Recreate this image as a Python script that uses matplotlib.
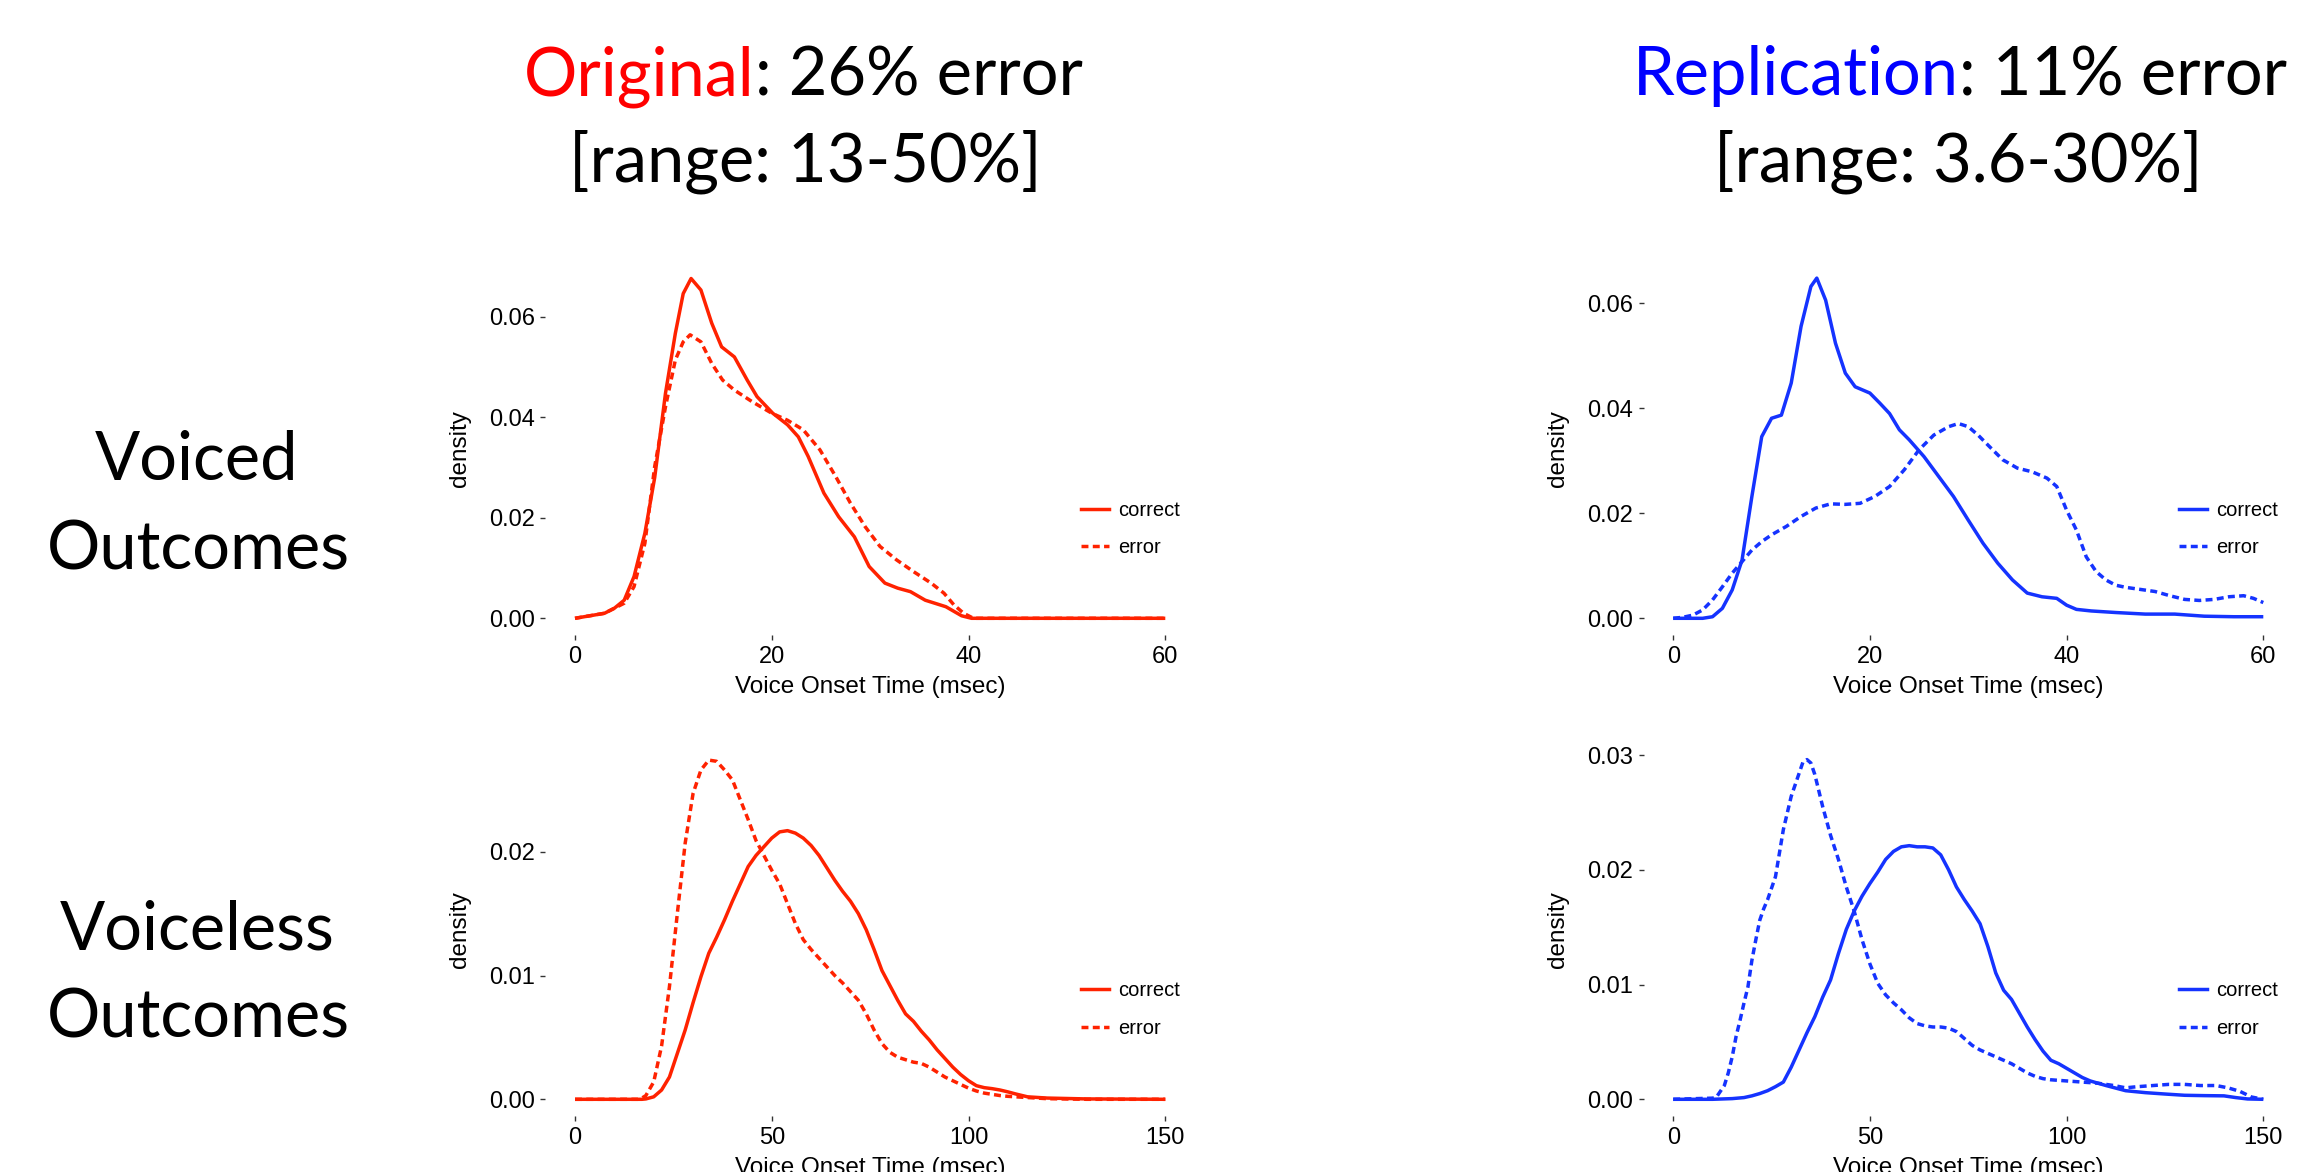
import matplotlib
matplotlib.use("Agg")
import matplotlib.pyplot as plt
from matplotlib.lines import Line2D

W, H = 2306, 1172
DPI = 100

# ---------------- data ----------------
# Original study, voiced outcomes
orig_voiced_correct_x = [0, 3, 4, 5, 6, 7.1, 8.1, 9.2, 10.2, 11, 11.8, 12.8, 13.9, 14.9, 16.2, 17.5, 18.5,
                         20.1, 21.6, 22.7, 23.7, 25.3, 26.8, 28.4, 29.9, 31.5, 32.8, 34.1, 35.6, 37.7, 39.3,
                         40.3, 45, 50, 55, 60]
orig_voiced_correct_y = [0, 0.0010, 0.0020, 0.0036, 0.0083, 0.0169, 0.0280, 0.0448, 0.0567, 0.0646, 0.0676,
                         0.0653, 0.0587, 0.0540, 0.0520, 0.0474, 0.0441, 0.0408, 0.0385, 0.0361, 0.0322,
                         0.0249, 0.0202, 0.0162, 0.0103, 0.0070, 0.0060, 0.0053, 0.0036, 0.0023, 0.0005,
                         0, 0, 0, 0, 0]
orig_voiced_error_x = [0, 3, 5, 6, 7.1, 8.1, 9.2, 10.2, 11, 11.7, 12.8, 13.9, 15, 16.2, 18, 20, 21.6, 23.2,
                       24.9, 26.5, 28, 29.5, 31, 32.7, 34.4, 36.2, 37.5, 38.5, 39.5, 40.5, 45, 50, 55, 60]
orig_voiced_error_y = [0, 0.0010, 0.0030, 0.0063, 0.0149, 0.0302, 0.0421, 0.0514, 0.0550, 0.0564, 0.0550,
                       0.0507, 0.0474, 0.0454, 0.0431, 0.0408, 0.0394, 0.0375, 0.0335, 0.0282, 0.0229,
                       0.0182, 0.0143, 0.0116, 0.0093, 0.0070, 0.0050, 0.0027, 0.0010, 0, 0, 0, 0, 0]

# Replication, voiced outcomes
rep_voiced_correct_x = [0, 3, 4, 5, 6, 7, 8, 9, 10, 11, 12, 13, 14, 14.6, 15.5, 16.5, 17.5, 18.5, 20, 21,
                        22, 23, 24, 25.5, 27, 28.5, 30, 31.5, 33, 34.5, 36, 37.5, 39, 40, 41, 42.5, 45,
                        48, 51, 54, 57, 60]
rep_voiced_correct_y = [0, 0, 0.0003, 0.0019, 0.0054, 0.0111, 0.0232, 0.0346, 0.0381, 0.0387, 0.0448,
                        0.0556, 0.0632, 0.0648, 0.0606, 0.0524, 0.0467, 0.0441, 0.0429, 0.0410, 0.0390,
                        0.0359, 0.0340, 0.0308, 0.0270, 0.0232, 0.0187, 0.0143, 0.0105, 0.0073, 0.0048,
                        0.0041, 0.0038, 0.0025, 0.0017, 0.0014, 0.0011, 0.0008, 0.0008, 0.0004, 0.0003,
                        0.0003]
rep_voiced_error_x = [0, 1, 2, 3, 4, 5, 6, 7, 8, 9, 10, 11.5, 13, 14.5, 16, 17.5, 19, 20.5, 22, 23.5, 25,
                      26.5, 28, 29, 30, 31, 32, 33.5, 35, 36.5, 38, 39, 40, 41, 42, 43, 44, 45, 46, 47.5,
                      49, 50.5, 52, 53.5, 55, 56.5, 58, 59, 60]
rep_voiced_error_y = [0, 0.0002, 0.0006, 0.0016, 0.0035, 0.0060, 0.0086, 0.0108, 0.0130, 0.0146, 0.0159,
                      0.0175, 0.0194, 0.0210, 0.0218, 0.0217, 0.0219, 0.0232, 0.0251, 0.0283, 0.0321,
                      0.0349, 0.0365, 0.0371, 0.0365, 0.0349, 0.0330, 0.0302, 0.0286, 0.0279, 0.0267,
                      0.0251, 0.0206, 0.0168, 0.0117, 0.0089, 0.0073, 0.0063, 0.0059, 0.0055, 0.0051,
                      0.0043, 0.0036, 0.0034, 0.0036, 0.0041, 0.0043, 0.0038, 0.0030]

# Original study, voiceless outcomes
orig_voiceless_correct_x = [0, 17, 18] + list(range(20, 114, 2)) + [115, 120, 130, 150]
orig_voiceless_correct_y = [0, 0, 0.00003,
                            0.0002, 0.00075, 0.0018, 0.0037, 0.0056, 0.0078, 0.0099, 0.0118, 0.0131,
                            0.0145, 0.0160, 0.0174, 0.0188, 0.0197, 0.0204, 0.0211, 0.0216, 0.0217,
                            0.0215, 0.0211, 0.0205, 0.0197, 0.0187, 0.0177, 0.0168, 0.0160, 0.0150,
                            0.0137, 0.0121, 0.0104, 0.0092, 0.0080, 0.0069, 0.0063, 0.0055, 0.0048,
                            0.0040, 0.0033, 0.0026, 0.0020, 0.0015, 0.0011, 0.00094, 0.00086, 0.00075,
                            0.0006, 0.00043,
                            0.0002, 0.0001, 0.00003, 0]
orig_voiceless_error_x = [0, 16, 17, 18] + list(range(20, 112, 2)) + [114, 120, 130, 150]
orig_voiceless_error_y = [0, 0, 0.0001, 0.0003,
                          0.0014, 0.0043, 0.0091, 0.0150, 0.0207, 0.0247, 0.0266, 0.0274, 0.0273, 0.0266,
                          0.0258, 0.0242, 0.0226, 0.0209, 0.0197, 0.0185, 0.0174, 0.0158, 0.0142, 0.0129,
                          0.0121, 0.0114, 0.0107, 0.0100, 0.0094, 0.0087, 0.0080, 0.0069, 0.0056, 0.0045,
                          0.0038, 0.0034, 0.0032, 0.0030, 0.0029, 0.0026, 0.0022, 0.0018, 0.0015, 0.0012,
                          0.0009, 0.00067, 0.0005, 0.0004, 0.0003, 0.00024,
                          0.00016, 0.00005, 0, 0]

# Replication, voiceless outcomes
rep_voiceless_correct_x = [0, 10, 15, 18, 20, 22, 24, 26, 27] + list(range(28, 108, 2)) + \
                          [110, 115, 120, 125, 130, 135, 140, 143, 146, 150]
rep_voiceless_correct_y = [0, 0, 0.00006, 0.00015, 0.0003, 0.0005, 0.00075, 0.0011, 0.0013,
                           0.0015, 0.0028, 0.0043, 0.0058, 0.0072, 0.0089, 0.0104, 0.0127, 0.0148, 0.0164,
                           0.0177, 0.0188, 0.0198, 0.0209, 0.0216, 0.0220, 0.0221, 0.0220, 0.0220, 0.0219,
                           0.0213, 0.0200, 0.0185, 0.0174, 0.0164, 0.0153, 0.0133, 0.0110, 0.0095, 0.0087,
                           0.0075, 0.0063, 0.0052, 0.0042, 0.0034, 0.0031, 0.0027, 0.0023, 0.0019, 0.0016,
                           0.0012, 0.00075, 0.00058, 0.00046, 0.00035, 0.00032, 0.0003, 0.00015, 0.00003, 0]
rep_voiceless_error_x = [0] + list(range(10, 25)) + [26, 28, 30, 32, 33, 34, 35, 36] + \
                        list(range(38, 98, 2)) + \
                        [100, 104, 108, 112, 115, 118, 122, 126, 130, 134, 138, 141, 144, 147, 150]
rep_voiceless_error_y = [0,
                         0.0001, 0.0002, 0.0007, 0.0012, 0.0023, 0.0037, 0.0055, 0.0069, 0.0084, 0.0098,
                         0.0121, 0.0139, 0.0156, 0.0166, 0.0174,
                         0.0194, 0.0235, 0.0264, 0.0284, 0.0294, 0.0296, 0.0293, 0.0283,
                         0.0255, 0.0230, 0.0209, 0.0185, 0.0164, 0.0139, 0.0118, 0.0101, 0.0091, 0.0084,
                         0.0078, 0.0071, 0.0066, 0.0064, 0.0063, 0.0063, 0.0062, 0.0059, 0.0053, 0.0047,
                         0.0043, 0.0040, 0.0037, 0.0034, 0.0031, 0.0027, 0.0023, 0.0020, 0.0018, 0.0017,
                         0.0016, 0.0015, 0.0014, 0.0012, 0.0010, 0.0011, 0.0012, 0.0013, 0.0013, 0.0012,
                         0.0012, 0.0010, 0.0007, 0.0002, 0]

legend_labels = ["correct", "error"]
voiced_xticks = [0, 20, 40, 60]
voiceless_xticks = [0, 50, 100, 150]
orig_voiced_yticks = [0.00, 0.02, 0.04, 0.06]
rep_voiced_yticks = [0.00, 0.02, 0.04, 0.06]
orig_voiceless_yticks = [0.00, 0.01, 0.02]
rep_voiceless_yticks = [0.00, 0.01, 0.02, 0.03]
x_label = "Voice Onset Time (msec)"
y_label = "density"

title_left = [("Original", "#FF0000"), (": 26% error", "black")]
title_left2 = "[range: 13-50%]"
title_right = [("Replication", "#0000FF"), (": 11% error", "black")]
title_right2 = "[range: 3.6-30%]"
row_labels = [("Voiced", "Outcomes"), ("Voiceless", "Outcomes")]

RED = "#FF2200"
BLUE = "#1533FF"

# ---------------- figure ----------------
plt.rcParams["font.family"] = ["Liberation Sans", "DejaVu Sans"]
fig = plt.figure(figsize=(W / DPI, H / DPI), dpi=DPI)
fig.patch.set_facecolor("white")

LW = 2.5
DASH = (0, (2.0, 1.25))


def make_panel(px0, px1, xd1, py0, py1, yd1, xmax, ymax):
    """Create axes so that data 0->px0, xd1->px1 horizontally and 0->py0, yd1->py1 vertically (pixels)."""
    sx = (px1 - px0) / xd1
    sy = (py0 - py1) / yd1
    xlim = (-0.05 * xmax, 1.05 * xmax)
    ylim = (-0.05 * ymax, 1.05 * ymax)
    left = px0 + xlim[0] * sx
    right = px0 + xlim[1] * sx
    bottom = py0 - ylim[0] * sy
    top = py0 - ylim[1] * sy
    ax = fig.add_axes([left / W, 1 - bottom / H, (right - left) / W, (bottom - top) / H])
    ax.set_xlim(*xlim)
    ax.set_ylim(*ylim)
    for s in ax.spines.values():
        s.set_visible(False)
    ax.set_facecolor("none")
    return ax, (right - left), (bottom - top)


def style_panel(ax, aw, ah, xticks, yticks, color, cx, cy, cex, cey, legx, legy):
    ax.set_xticks(xticks)
    ax.set_yticks(yticks)
    ax.set_yticklabels(["%.2f" % v for v in yticks])
    ax.tick_params(direction="out", length=3.6, width=1.0, color="#333333",
                   labelsize=17, labelcolor="black", pad=4)
    ax.plot(cx, cy, color=color, lw=LW, solid_capstyle="butt", solid_joinstyle="round")
    ax.plot(cex, cey, color=color, lw=LW, linestyle=DASH, dash_capstyle="butt",
            dash_joinstyle="round")
    ax.set_xlabel(x_label, fontsize=17.5, va="center")
    ax.xaxis.set_label_coords(0.5, -51.4 / ah)
    ax.set_ylabel(y_label, fontsize=17.5, va="center")
    ax.yaxis.set_label_coords(-85.5 / aw, 0.5)
    handles = [Line2D([], [], color=color, lw=LW),
               Line2D([], [], color=color, lw=LW, linestyle=DASH)]
    ax.legend(handles, legend_labels, loc="center left",
              bbox_to_anchor=(legx / W, 1 - legy / H), bbox_transform=fig.transFigure,
              frameon=False, fontsize=14.5, handlelength=1.4, handletextpad=0.45,
              labelspacing=0.9, borderpad=0, borderaxespad=0)


# Top-left: Original voiced
ymax1 = max(max(orig_voiced_correct_y), max(orig_voiced_error_y))
ax1, aw, ah = make_panel(575.0, 1165.3, 60, 618.3, 316.7, 0.06, 60, ymax1)
style_panel(ax1, aw, ah, voiced_xticks, orig_voiced_yticks, RED,
            orig_voiced_correct_x, orig_voiced_correct_y, orig_voiced_error_x, orig_voiced_error_y,
            1080.7, 529)

# Top-right: Replication voiced
ymax2 = max(max(rep_voiced_correct_y), max(rep_voiced_error_y))
ax2, aw, ah = make_panel(1673.2, 2263.3, 60, 618.3, 303.3, 0.06, 60, ymax2)
style_panel(ax2, aw, ah, voiced_xticks, rep_voiced_yticks, BLUE,
            rep_voiced_correct_x, rep_voiced_correct_y, rep_voiced_error_x, rep_voiced_error_y,
            2178.5, 529)

# Bottom-left: Original voiceless
ymax3 = max(max(orig_voiceless_correct_y), max(orig_voiceless_error_y))
ax3, aw, ah = make_panel(575.0, 1165.3, 150, 1099.3, 851.7, 0.02, 150, ymax3)
style_panel(ax3, aw, ah, voiceless_xticks, orig_voiceless_yticks, RED,
            orig_voiceless_correct_x, orig_voiceless_correct_y, orig_voiceless_error_x,
            orig_voiceless_error_y, 1080.7, 1009.5)

# Bottom-right: Replication voiceless
ymax4 = max(max(rep_voiceless_correct_y), max(rep_voiceless_error_y))
ax4, aw, ah = make_panel(1673.2, 2263.3, 150, 1099.3, 755.0, 0.03, 150, ymax4)
style_panel(ax4, aw, ah, voiceless_xticks, rep_voiceless_yticks, BLUE,
            rep_voiceless_correct_x, rep_voiceless_correct_y, rep_voiceless_error_x,
            rep_voiceless_error_y, 2178.5, 1009.5)

# ---------------- big slide text (Calibri-like) ----------------
renderer = fig.canvas.get_renderer()
BIGFONT = ["Lato", "DejaVu Sans"]


def text_width(s, size):
    t = fig.text(0, 0, s, fontsize=size, family=BIGFONT)
    w = t.get_window_extent(renderer).width
    t.remove()
    return w


big_size = 50 * 303.0 / text_width("Outcomes", 50)


def centered_text(pieces, cx, baseline_y):
    widths = [text_width(s, big_size) for s, _ in pieces]
    total = text_width("".join(s for s, _ in pieces), big_size)
    x = cx - total / 2
    for (s, c), w in zip(pieces, widths):
        fig.text(x / W, 1 - baseline_y / H, s, fontsize=big_size, family=BIGFONT,
                 color=c, ha="left", va="baseline")
        x += w


centered_text(title_left, 803.3, 95)
centered_text([(title_left2, "black")], 805, 181.7)
centered_text(title_right, 1960, 95)
centered_text([(title_right2, "black")], 1958, 181.7)

centered_text([(row_labels[0][0], "black")], 197, 480)
centered_text([(row_labels[0][1], "black")], 198, 570)
centered_text([(row_labels[1][0], "black")], 197.5, 950)
centered_text([(row_labels[1][1], "black")], 198, 1038)

fig.savefig("out.png", dpi=DPI, facecolor="white")
